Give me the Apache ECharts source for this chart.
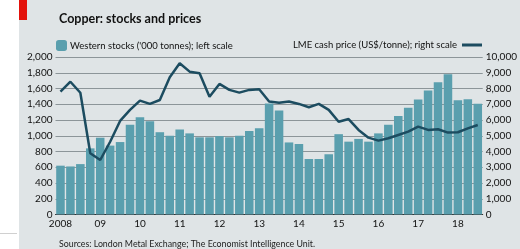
<!DOCTYPE html>
<html>
<head>
<meta charset="utf-8">
<script src="https://cdn.jsdelivr.net/npm/echarts@6/dist/echarts.min.js"></script>
<style>
  html, body { margin: 0; padding: 0; background: #fff; }
  #wrap { position: relative; width: 520px; height: 249px; overflow: hidden; }
  #panel { position: absolute; left: 19px; top: 0; width: 501px; height: 249px; background: #dfe4e6; }
  #red { position: absolute; left: 19px; top: 0; width: 8px; height: 20px; background: #e3120b; }
  #rule { position: absolute; left: 0; top: 233px; width: 17px; height: 1px; background: #d0d0d0; }
  #main { position: absolute; left: 0; top: 0; width: 520px; height: 249px; }
</style>
</head>
<body>
<div id="wrap">
  <div id="panel"></div>
  <div id="red"></div>
  <div id="rule"></div>
  <div id="main"></div>
</div>
<script>
// quarters 2008Q1 .. 2018Q3
var quarters = [];
for (var y = 2008; y <= 2018; y++) {
  for (var q = 1; q <= 4; q++) {
    if (y === 2018 && q === 4) break;
    quarters.push(y + 'Q' + q);
  }
}
var yearLabels = ['2008', '09', '10', '11', '12', '13', '14', '15', '16', '17', '18'];

// Western stocks ('000 tonnes), left scale
var stocks = [
  620, 610, 640, 840,
  975, 875, 920, 1140,
  1235, 1185, 1045, 1000,
  1080, 1030, 980, 980,
  995, 980, 1000, 1060,
  1095, 1410, 1320, 915,
  895, 705, 705, 765,
  1020, 925, 960, 925,
  1030, 1140, 1250, 1355,
  1460, 1575, 1680, 1780,
  1450, 1465, 1405
];

// LME cash price (US$/tonne), right scale
var price = [
  7800, 8430, 7730, 3890,
  3460, 4620, 5940, 6640,
  7230, 7020, 7270, 8710,
  9600, 9070, 8970, 7480,
  8290, 7910, 7740, 7910,
  7950, 7170, 7100, 7170,
  7020, 6810, 7020, 6640,
  5890, 6060, 5370, 4880,
  4690, 4840, 5050, 5260,
  5580, 5370, 5410, 5200,
  5220, 5470, 5680
];

var leftTicks = { min: 0, max: 2000, interval: 200 };
var rightTicks = { min: 0, max: 10000, interval: 1000 };

var font = 'Lato';
function comma(v) { return String(v).replace(/\B(?=(\d{3})+(?!\d))/g, ','); }

var chart = echarts.init(document.getElementById('main'), null, { renderer: 'canvas' });
chart.setOption({
  animation: false,
  textStyle: { fontFamily: font },
  title: [
    {
      text: 'Copper: stocks and prices',
      left: 54, top: 7,
      textStyle: { fontFamily: font, fontSize: 12.5, fontWeight: 'bold', color: '#111' }
    },
    {
      text: 'Sources: London Metal Exchange; The Economist Intelligence Unit.',
      left: 54, top: 235,
      textStyle: { fontFamily: font, fontSize: 8.8, fontWeight: 'normal', color: '#222' }
    }
  ],
  legend: [
    {
      data: ["Western stocks ('000 tonnes); left scale"],
      left: 51, top: 35,
      itemWidth: 11, itemHeight: 11, itemGap: 4,
      textStyle: { fontFamily: font, fontSize: 9.5, color: '#111', padding: [0, 0, 0, -2] }
    },
    {
      data: [{ name: 'LME cash price (US$/tonne); right scale', icon: 'rect', itemStyle: { color: '#1c4c60' } }],
      right: 33, top: 35,
      align: 'right',
      itemWidth: 20, itemHeight: 3,
      textStyle: { fontFamily: font, fontSize: 9.5, color: '#111' }
    }
  ],
  grid: { left: 55.5, right: 34, top: 57, bottom: 34.5 },
  xAxis: {
    type: 'category',
    data: quarters,
    boundaryGap: true,
    axisLine: { lineStyle: { color: '#333', width: 1 } },
    axisTick: { show: false },
    axisLabel: {
      interval: 3,
      margin: 4,
      fontFamily: font, fontSize: 10, color: '#111',
      formatter: function (v, i) { return yearLabels[i / 4] || ''; }
    }
  },
  yAxis: [
    {
      type: 'value',
      min: leftTicks.min, max: leftTicks.max, interval: leftTicks.interval,
      axisLine: { show: false },
      axisTick: { show: false },
      splitLine: { show: true, lineStyle: { color: '#8c9599', width: 1 } },
      axisLabel: { margin: 3, fontFamily: font, fontSize: 10, color: '#111', formatter: comma }
    },
    {
      type: 'value',
      min: rightTicks.min, max: rightTicks.max, interval: rightTicks.interval,
      axisLine: { show: false },
      axisTick: { show: false },
      splitLine: { show: false },
      axisLabel: { margin: 3, fontFamily: font, fontSize: 10, color: '#111', formatter: comma }
    }
  ],
  series: [
    {
      name: "Western stocks ('000 tonnes); left scale",
      type: 'bar',
      yAxisIndex: 0,
      data: stocks,
      barCategoryGap: '14%',
      itemStyle: { color: '#5a9fae' }
    },
    {
      name: 'LME cash price (US$/tonne); right scale',
      type: 'line',
      yAxisIndex: 1,
      data: price,
      symbol: 'none',
      lineStyle: { color: '#1c4c60', width: 2.5 },
      itemStyle: { color: '#1c4c60' }
    }
  ]
});
</script>
</body>
</html>
